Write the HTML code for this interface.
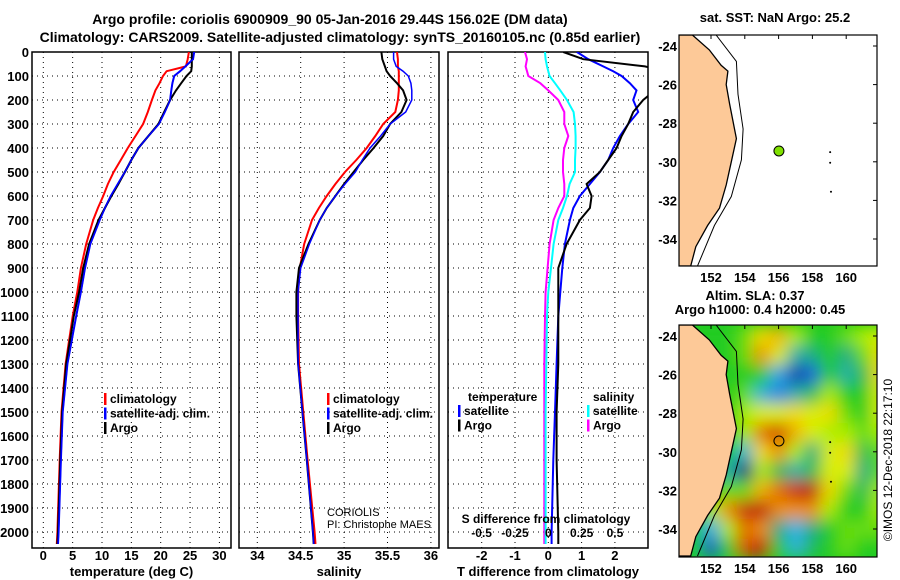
<!DOCTYPE html>
<html><head><meta charset="utf-8"><style>
html,body{margin:0;padding:0;background:#fff;}
svg{display:block;font-family:"Liberation Sans",sans-serif;font-weight:bold;}
</style></head><body>
<svg id="c" width="900" height="580" xmlns="http://www.w3.org/2000/svg">
<defs>
<filter id="blur" x="-40%" y="-40%" width="180%" height="180%"><feGaussianBlur stdDeviation="8"/></filter>
<clipPath id="cp1"><rect x="32" y="52" width="199" height="496"/></clipPath>
<clipPath id="cp2"><rect x="239" y="52" width="200" height="496"/></clipPath>
<clipPath id="cp3"><rect x="448" y="52" width="200" height="496"/></clipPath>
<clipPath id="cpm1"><rect x="679" y="35" width="198" height="231"/></clipPath>
<clipPath id="cpm2"><rect x="679" y="325" width="198" height="232"/></clipPath>
</defs>
<text x="330" y="24" font-size="14" text-anchor="middle">Argo profile: coriolis 6900909_90 05-Jan-2016 29.44S 156.02E (DM data)</text>
<text x="340" y="42" font-size="14" text-anchor="middle">Climatology: CARS2009. Satellite-adjusted climatology: synTS_20160105.nc (0.85d earlier)</text>
<g id="g"></g>
</svg>
<script>
// ---- profile data ----
const depths = [0,30,60,80,100,130,160,200,250,300,350,400,450,500,550,600,650,700,800,900,1000,1100,1300,1500,1700,2000,2050];
const tempArgo = [25.3,25.3,25.3,25.2,24.4,23.5,22.6,21.6,20.6,19.6,17.9,16.2,15.0,13.9,12.8,11.6,10.5,9.4,7.8,6.8,6.1,5.2,3.9,3.2,2.9,2.5,2.4];
const tempClim = [24.8,24.6,24.3,21.0,20.4,19.8,19.1,18.5,17.8,17.0,15.7,14.4,13.2,12.0,11.0,10.2,9.3,8.5,7.3,6.4,5.8,5.0,3.8,3.1,2.8,2.4,2.3];
const tempSat = [25.7,25.5,24.2,23.3,22.3,22.0,21.8,21.6,20.7,19.7,17.9,16.2,15.0,13.9,12.7,11.5,10.5,9.6,8.0,7.1,6.4,5.6,4.1,3.3,3.0,2.6,2.5];
const salArgo = [35.43,35.44,35.47,35.49,35.53,35.61,35.68,35.72,35.66,35.53,35.45,35.34,35.22,35.11,35.0,34.9,34.8,34.72,34.59,34.48,34.45,34.45,34.47,34.52,34.57,34.64,34.65];
const salClim = [35.61,35.62,35.62,35.63,35.63,35.63,35.63,35.62,35.59,35.45,35.36,35.26,35.14,35.01,34.9,34.80,34.71,34.63,34.54,34.49,34.47,34.47,34.48,34.53,34.58,34.66,34.67];
const salSat = [35.57,35.57,35.6,35.68,35.74,35.77,35.78,35.78,35.71,35.53,35.42,35.30,35.21,35.13,35.01,34.9,34.8,34.72,34.60,34.50,34.47,34.47,34.47,34.52,34.57,34.64,34.65];
const dTArgo = [0.45,1.05,2.9,3.5,3.5,3.5,3.2,2.85,2.55,2.4,2.2,2.05,1.8,1.55,1.15,1.3,1.25,0.95,0.55,0.3,0.3,0.3,0.3,0.25,0.25,0.3,0.3];
const dTSat = [0.86,1.2,1.65,1.95,2.2,2.45,2.65,2.55,2.7,2.4,2.15,1.95,1.8,1.55,1.25,0.95,0.75,0.65,0.5,0.42,0.36,0.3,0.25,0.2,0.15,0.1,0.1];
const dSSat = [-0.025,-0.02,-0.01,0,0.01,0.05,0.09,0.14,0.19,0.2,0.205,0.205,0.2,0.2,0.16,0.14,0.11,0.075,0.04,0.02,0,-0.01,-0.015,-0.02,-0.02,-0.02,-0.02];
const dSArgo = [-0.175,-0.16,-0.17,-0.16,-0.15,-0.06,0,0.075,0.12,0.12,0.15,0.12,0.11,0.11,0.12,0.12,0.075,0.04,0.01,-0.005,-0.02,-0.025,-0.03,-0.03,-0.03,-0.03,-0.03];
const depthTicks = [0,100,200,300,400,500,600,700,800,900,1000,1100,1200,1300,1400,1500,1600,1700,1800,1900,2000];
const tempTicks = [0,5,10,15,20,25,30];
const salTicks = [34,34.5,35,35.5,36];
const dTTicks = [-2,-1,0,1,2];
const dSTickLabels = ["-0.5","-0.25","0","0.25","0.5"];
const dSTickVals = [-0.5,-0.25,0,0.25,0.5];
// ---- map data ----
const lonTicks = [152,154,156,158,160];
const latTicks = [-24,-26,-28,-30,-32,-34];
const argoLon = 156.02, argoLat = -29.44;
const slaLons = [151,152,153,154,155,156,157,158,159,160,161,162];
const slaLats = [-24,-25,-26,-27,-28,-29,-30,-31,-32,-33,-34,-35];
const slaRow0 = [0,0,0,0.1,0.4,0.5,0.2,0,0,0.1,0.2,0.3];
const slaRow1 = [0,0,0,0.1,0.6,0.3,-0.3,-0.2,0,-0.2,0.1,0.4];
const slaRow2 = [0,0,0,0,0,-0.5,-0.9,-0.7,0,-0.3,-0.1,0.4];
const slaRow3 = [0,0,0,0.1,-0.4,-0.6,-0.3,-0.1,0.2,0,0,0.3];
const slaRow4 = [0,0,0,0.2,0.3,0.3,0.4,0.3,0.4,0.1,0,0.3];
const slaRow5 = [0,0,0,0.2,0.7,0.85,0.5,0.3,0.2,0.2,0.1,0.2];
const slaRow6 = [0,0,0,-0.4,0.4,0.6,0.2,-0.2,0.3,0.4,-0.1,0.1];
const slaRow7 = [0,0,-0.3,-1.3,0.2,-0.1,-0.3,-0.1,0.3,0.3,-0.2,0.1];
const slaRow8 = [0,0,0.1,0.1,0.5,0.7,0.9,1.05,0.4,0.1,-0.1,0.2];
const slaRow9 = [0,0.2,0.6,0.9,1.05,0.6,0.6,0.6,0.2,0,0,0.2];
const slaRow10 = [0,-0.5,0.2,0.7,0.6,-0.2,-0.45,-0.2,0,0.1,0.1,0.1];
const slaRow11 = [0,-0.8,0.0,0.8,0.95,0,-0.4,-0.1,0,0.1,0,0];
const slaGrid = [slaRow0,slaRow1,slaRow2,slaRow3,slaRow4,slaRow5,slaRow6,slaRow7,slaRow8,slaRow9,slaRow10,slaRow11];

const NS="http://www.w3.org/2000/svg";
const G=document.getElementById('g');
function mk(tag,attrs,parent){const e=document.createElementNS(NS,tag);for(const k in attrs)e.setAttribute(k,attrs[k]);(parent||G).appendChild(e);return e;}
const Y0=52, PB=548;
const yD = d => Y0 + d*0.24;
function xLin(v0,px0,scale){return v=>px0+(v-v0)*scale;}
const xT = xLin(0,43.3,5.87);
const xS = xLin(34,257.3,86.8);
const xdT = xLin(0,548.3,33.3);
const xdS = xLin(0,548.3,133.3);

function panel(name,x0,w,xf,xticks,xlabels,xtitle,clip){
  const g=mk('g',{});
  
  
  depthTicks.forEach(d=>{ if(d>0){const l=mk('line',{x1:x0,x2:x0+w,y1:yD(d),y2:yD(d),stroke:'#000','stroke-width':1,'stroke-dasharray':'1,4'},g);
    
    }});
  xticks.forEach((v,i)=>{const l=mk('line',{x1:xf(v),x2:xf(v),y1:Y0,y2:PB,stroke:'#000','stroke-width':1,'stroke-dasharray':'1,4'},g);
    
    
    const t=mk('text',{x:xf(v),y:560,'font-size':13,'text-anchor':'middle'},g);t.textContent=xlabels[i];
    
    });
  const r=mk('rect',{x:x0,y:Y0,width:w,height:PB-Y0,fill:'none',stroke:'#000','stroke-width':1.5},g);
  
  
  const tt=mk('text',{x:x0+w/2,y:576,'font-size':13,'text-anchor':'middle'},g);tt.textContent=xtitle;
  
  
  return g;
}
function series(name,vals,xf,color,clip,w){
  const pts=vals.map((v,i)=>xf(v).toFixed(1)+','+yD(depths[i]).toFixed(1)).join(' ');
  const p=mk('polyline',{points:pts,fill:'none',stroke:color,'stroke-width':w||2,'clip-path':'url(#'+clip+')'});
  
  
}
function legend(name,x,y,items){
  items.forEach((it,i)=>{
    const r=mk('rect',{x:x,y:y+i*14.5-10,width:2.5,height:12,fill:it[1]});
    
    
    const t=mk('text',{x:x+6,y:y+i*14.5,'font-size':12});t.textContent=it[0];
    
    
  });
}
depthTicks.forEach(d=>{const t=mk('text',{x:29,y:yD(d)+5,'font-size':13,'text-anchor':'end'});t.textContent=d;
  
  });

panel('temperature-panel',32,199,xT,tempTicks,tempTicks.map(String),'temperature (deg C)');
series('temp-climatology-line',tempClim,xT,'#f00','cp1');
series('temp-satellite-line',tempSat,xT,'#00f','cp1');
series('temp-argo-line',tempArgo,xT,'#000','cp1');
series('temp-satellite-line-top',tempSat,xT,'#00f','cp1',1.5);
legend('temp-legend',104,403,[['climatology','#f00'],['satellite-adj. clim.','#00f'],['Argo','#000']]);

panel('salinity-panel',239,200,xS,salTicks,['34','34.5','35','35.5','36'],'salinity');
series('sal-climatology-line',salClim,xS,'#f00','cp2');
series('sal-argo-line',salArgo,xS,'#000','cp2');
series('sal-satellite-line',salSat,xS,'#00f','cp2',1.5);
legend('sal-legend',327,403,[['climatology','#f00'],['satellite-adj. clim.','#00f'],['Argo','#000']]);
let t1=mk('text',{x:327,y:516,'font-size':11,'font-weight':'normal'});t1.textContent='CORIOLIS';


let t2=mk('text',{x:327,y:528,'font-size':11,'font-weight':'normal'});t2.textContent='PI: Christophe MAES';



panel('difference-panel',448,200,xdT,dTTicks,dTTicks.map(String),'T difference from climatology');
series('ds-argo-line',dSArgo,xdS,'#f0f','cp3');
series('ds-satellite-line',dSSat,xdS,'#0ff','cp3');
series('dt-satellite-line',dTSat,xdT,'#00f','cp3');
series('dt-argo-line',dTArgo,xdT,'#000','cp3');
let lt=mk('text',{x:468,y:401,'font-size':12});lt.textContent='temperature';


legend('diff-legend-t',458,415,[['satellite','#00f'],['Argo','#000']]);
let ls=mk('text',{x:593,y:401,'font-size':12});ls.textContent='salinity';


legend('diff-legend-s',587,415,[['satellite','#0ff'],['Argo','#f0f']]);
let st=mk('text',{x:546,y:523,'font-size':12,'text-anchor':'middle'});st.textContent='S difference from climatology';


dSTickVals.forEach((v,i)=>{const t=mk('text',{x:xdS(v),y:537,'font-size':12,'text-anchor':'middle'});t.textContent=dSTickLabels[i];
  
  });

// ---- maps ----
const mX = lon => 711 + (lon-152)*16.9;
const coast=[[150.1,-23.43],[150.9,-23.43],[151.9,-24.2],[152.6,-25.0],[153.0,-25.3],[152.9,-26.0],[153.1,-27.0],[153.3,-27.9],[153.5,-28.8],[153.2,-30.0],[152.9,-31.2],[152.5,-32.4],[151.8,-33.3],[151.1,-34.4],[150.8,-35.4],[150.1,-35.4]];
const iso=[[152.3,-23.43],[153.5,-24.8],[153.6,-26.5],[153.9,-28.3],[153.8,-29.9],[153.2,-31.8],[152.2,-33.3],[151.2,-35.4]];
function mapPanel(name,top,title,clip,bg){
  const mY = lat => top + 11 + (-24-lat)*19.3;
  const g=mk('g',{});
  
  
  if(bg){
    const base=mk('rect',{x:679,y:top,width:198,height:232,fill:'#22cc22','clip-path':'url(#'+clip+')'},g);
    
    
    const hg=mk('g',{'clip-path':'url(#'+clip+')'},g);
    const hb=mk('g',{filter:'url(#blur)'},hg);
    slaGrid.forEach((row,ri)=>row.forEach((v,ci)=>{
      const c=mk('rect',{x:mX(slaLons[ci]-0.5),y:mY(slaLats[ri]+0.5),width:17.2,height:19.6,fill:slaColor(v)},hb);
      
      
    }));
  }
  const land=mk('polygon',{points:coast.map(p=>mX(p[0]).toFixed(1)+','+mY(p[1]).toFixed(1)).join(' '),fill:'#fdc998',stroke:'#000','stroke-width':1.3,'clip-path':'url(#'+clip+')'},g);
  
  
  const il=mk('polyline',{points:iso.map(p=>mX(p[0]).toFixed(1)+','+mY(p[1]).toFixed(1)).join(' '),fill:'none',stroke:'#000','stroke-width':1,'clip-path':'url(#'+clip+')'},g);
  
  
  [[159.05,-29.5],[159.05,-30.05],[159.1,-31.55]].forEach(p=>{const d=mk('circle',{cx:mX(p[0]),cy:mY(p[1]),r:1,fill:'#000'},g);
    
    });
  const dot=mk('circle',{cx:mX(argoLon),cy:mY(argoLat),r:5,fill:bg?'none':'#7fe000',stroke:'#000','stroke-width':1},g);
  
  
  const fr=mk('rect',{x:679,y:top,width:198,height:bg?232:231,fill:'none',stroke:'#000','stroke-width':1.2},g);
  
  
  lonTicks.forEach(l=>{const t=mk('text',{x:mX(l),y:top+(bg?248:247),'font-size':13,'text-anchor':'middle'},g);t.textContent=l;
    
    
    mk('line',{x1:mX(l),x2:mX(l),y1:top,y2:top+4,stroke:'#000'},g);});
  latTicks.forEach(l=>{const t=mk('text',{x:677,y:mY(l)+5,'font-size':13,'text-anchor':'end'},g);t.textContent=l;
    
    
    mk('line',{x1:873,x2:877,y1:mY(l),y2:mY(l),stroke:'#000'},g);});
  title.forEach((s,i)=>{const t=mk('text',{x:i==0?(bg?755:775):760,y:top-(title.length-i)*14+9 - (bg?6:8),'font-size':13,'text-anchor':'middle'},g);t.textContent=s;
    
    });
}
function slaColor(v){
  const st=[[-1.1,[0,20,120]],[-0.7,[30,100,220]],[-0.45,[50,180,235]],[-0.2,[30,170,130]],[0,[34,204,34]],[0.2,[170,238,0]],[0.35,[240,240,0]],[0.55,[240,160,0]],[0.75,[224,96,0]],[0.95,[190,20,10]]];
  if(v<=st[0][0])return 'rgb('+st[0][1]+')';
  for(let i=1;i<st.length;i++){if(v<=st[i][0]){const f=(v-st[i-1][0])/(st[i][0]-st[i-1][0]);const a=st[i-1][1],b=st[i][1];
    return 'rgb('+a.map((x,k)=>Math.round(x+(b[k]-x)*f)).join(',')+')';}}
  return 'rgb('+st[st.length-1][1]+')';
}
mapPanel('sst-map',35,['sat. SST: NaN Argo: 25.2'],'cpm1',false);
mapPanel('sla-map',325,['Altim. SLA: 0.37','Argo h1000: 0.4 h2000: 0.45'],'cpm2',true);
const cr=mk('text',{x:892,y:460,'font-size':12,'font-weight':'normal','text-anchor':'middle',transform:'rotate(-90 892 460)'});
cr.textContent='©IMOS 12-Dec-2018 22:17:10';


</script>
</body></html>
